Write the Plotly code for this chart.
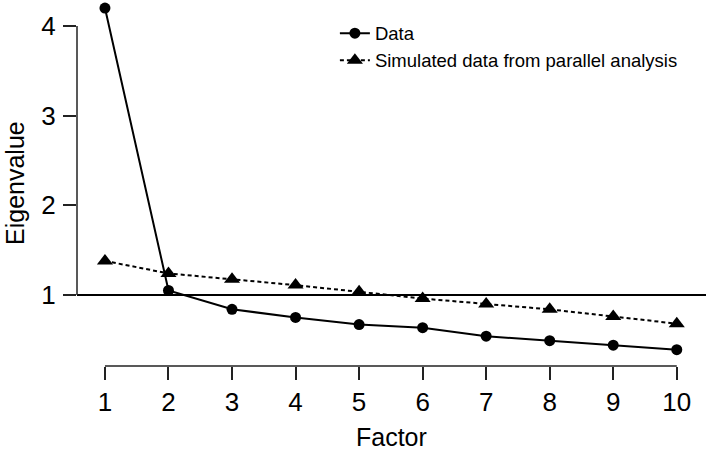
import plotly.graph_objects as go

factors = [1, 2, 3, 4, 5, 6, 7, 8, 9, 10]
data_eigen = [4.20, 1.05, 0.84, 0.75, 0.67, 0.635, 0.54, 0.49, 0.44, 0.39]
sim_eigen = [1.38, 1.24, 1.175, 1.11, 1.035, 0.96, 0.90, 0.84, 0.76, 0.68]
x_ticks = [1, 2, 3, 4, 5, 6, 7, 8, 9, 10]
y_ticks = [1, 2, 3, 4]

FONT = "Arial, 'Liberation Sans', sans-serif"

fig = go.Figure()
fig.add_trace(go.Scatter(
    x=factors, y=data_eigen, mode="lines+markers", name="Data",
    line=dict(color="black", width=2),
    marker=dict(symbol="circle", size=11, color="black"),
    cliponaxis=False,
))
fig.add_trace(go.Scatter(
    x=factors, y=sim_eigen, mode="lines+markers",
    name="Simulated data from parallel analysis",
    line=dict(color="black", width=2, dash="4px,3px"),
    marker=dict(symbol="triangle-up", size=14, color="black"),
    cliponaxis=False,
))

shapes = [
    dict(type="line", xref="paper", yref="y", x0=0, x1=1, y0=1, y1=1,
         line=dict(color="black", width=2)),
    dict(type="line", xref="paper", yref="y", x0=0, x1=0,
         y0=min(y_ticks), y1=max(y_ticks), line=dict(color="#222", width=1.5)),
    dict(type="line", xref="x", yref="paper", x0=min(x_ticks), x1=max(x_ticks),
         y0=0, y1=0, line=dict(color="#222", width=1.5)),
]

fig.update_layout(
    width=709, height=457,
    margin=dict(l=77, r=3, t=0, b=91),
    paper_bgcolor="white", plot_bgcolor="white",
    font=dict(family=FONT, color="black"),
    shapes=shapes,
    showlegend=True,
    legend=dict(
        x=0.41, y=0.96, xanchor="left", yanchor="top",
        bgcolor="rgba(0,0,0,0)", borderwidth=0,
        font=dict(size=18.5, family=FONT, color="black"),
        tracegroupgap=0, itemwidth=30,
    ),
    xaxis=dict(
        range=[0.56, 10.46], tickvals=x_ticks, ticktext=[str(v) for v in x_ticks],
        ticks="outside", ticklen=13, tickwidth=1.5, tickcolor="#222",
        showline=False, showgrid=False, zeroline=False,
        tickfont=dict(size=26, family=FONT, color="black"),
        ticklabelstandoff=0,
    ),
    yaxis=dict(
        range=[0.208, 4.29], tickvals=y_ticks, ticktext=[str(v) for v in y_ticks],
        ticks="outside", ticklen=13, tickwidth=1.5, tickcolor="#222",
        showline=False, showgrid=False, zeroline=False,
        tickfont=dict(size=26, family=FONT, color="black"),
        ticklabelstandoff=2,
    ),
    annotations=[
        dict(text="Factor", xref="paper", yref="paper", x=0.4995, y=-71/366,
             xanchor="center", yanchor="middle", showarrow=False,
             font=dict(size=25, family=FONT, color="black")),
        dict(text="Eigenvalue", xref="paper", yref="paper", x=-62/629, y=0.5,
             xanchor="center", yanchor="middle", textangle=-90, showarrow=False,
             font=dict(size=25, family=FONT, color="black")),
    ],
)

fig.write_html("out.html")
